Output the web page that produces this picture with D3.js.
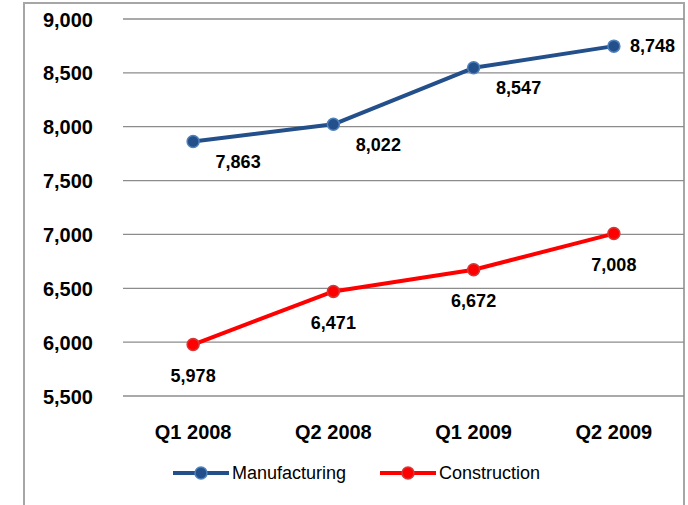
<!DOCTYPE html>
<html><head><meta charset="utf-8">
<script src="https://cdn.jsdelivr.net/npm/d3@7"></script>
<style>body{margin:0;background:#fff}svg{display:block}</style>
</head><body>
<svg id="chart" width="688" height="505"></svg>
<script>
const categories = ["Q1 2008", "Q2 2008", "Q1 2009", "Q2 2009"];
const manufacturing = [7863, 8022, 8547, 8748];
const construction = [5978, 6471, 6672, 7008];
const yTicks = [5500, 6000, 6500, 7000, 7500, 8000, 8500, 9000];
const seriesNames = ["Manufacturing", "Construction"];

const svg = d3.select("#chart");
const W = 688, H = 505;
const plot = {left: 123, right: 684, top: 19, bottom: 396};
const font = "'Liberation Sans', Arial, sans-serif";

// chart border
svg.append("rect").attr("x", 24).attr("y", 3).attr("width", 660).attr("height", 520)
  .attr("fill", "none").attr("stroke", "#a6a6a6").attr("stroke-width", 2);

const x = d3.scaleBand().domain(categories).range([plot.left, plot.right]);
const y = d3.scaleLinear().domain([5500, 9000]).range([plot.bottom, plot.top]);

// gridlines
svg.append("g").selectAll("line").data(yTicks).join("line")
  .attr("x1", plot.left).attr("x2", plot.right)
  .attr("y1", d => y(d)).attr("y2", d => y(d))
  .attr("stroke", "#8c8c8c").attr("stroke-width", 1.3);

// y axis labels
const yAxis = d3.axisLeft(y).tickValues(yTicks).tickFormat(d3.format(",")).tickSize(0).tickPadding(0);
const yg = svg.append("g").attr("transform", `translate(93,0)`).call(yAxis);
yg.select(".domain").remove();
yg.selectAll("text").attr("font-family", font).attr("font-size", 20).attr("font-weight", "bold").attr("fill", "#000").attr("dy", "0.35em");

// x axis labels
const xAxis = d3.axisBottom(x).tickSize(0).tickPadding(0);
const xg = svg.append("g").attr("transform", `translate(0,432)`).call(xAxis);
xg.select(".domain").remove();
xg.selectAll("text").attr("font-family", font).attr("font-size", 20).attr("font-weight", "bold").attr("fill", "#000").attr("dy", "0.35em");

const cx = c => x(c) + x.bandwidth() / 2;
const line = d3.line().x((d, i) => cx(categories[i])).y(d => y(d));

const series = [
  {name: seriesNames[0], values: manufacturing, color: "#234f8a", mk: "#234f8a", mkStroke: "#4f81bd", labelPos: "br"},
  {name: seriesNames[1], values: construction, color: "#ff0000", mk: "#ff0000", mkStroke: "#d23a3a", labelPos: "b"}
];

series.forEach(s => {
  svg.append("path").datum(s.values).attr("d", line)
    .attr("fill", "none").attr("stroke", s.color).attr("stroke-width", 4).attr("stroke-linejoin", "round");
  svg.append("g").selectAll("circle").data(s.values).join("circle")
    .attr("cx", (d, i) => cx(categories[i])).attr("cy", d => y(d)).attr("r", 6)
    .attr("fill", s.mk).attr("stroke", s.mkStroke).attr("stroke-width", 1.5);
  svg.append("g").selectAll("text").data(s.values).join("text")
    .attr("x", (d, i) => {
      const px = cx(categories[i]);
      if (s.labelPos === "b") return px;
      return i === s.values.length - 1 ? px + 16 : px + 45;
    })
    .attr("y", (d, i) => {
      const py = y(d);
      if (s.labelPos === "b") return py + 31;
      return i === s.values.length - 1 ? py : py + 20;
    })
    .attr("dy", "0.35em")
    .attr("text-anchor", (d, i) => (s.labelPos === "br" && i === s.values.length - 1) ? "start" : "middle")
    .attr("font-family", font).attr("font-size", 18).attr("font-weight", "bold").attr("fill", "#000")
    .text(d => d3.format(",")(d));
});

// legend
const legendX = [173, 380];
series.forEach((s, i) => {
  const g = svg.append("g").attr("transform", `translate(${legendX[i]},473)`);
  g.append("line").attr("x1", 0).attr("x2", 56).attr("y1", 0).attr("y2", 0)
    .attr("stroke", s.color).attr("stroke-width", 4);
  g.append("circle").attr("cx", 28).attr("cy", 0).attr("r", 6)
    .attr("fill", s.mk).attr("stroke", s.mkStroke).attr("stroke-width", 1.5);
  g.append("text").attr("x", 59).attr("y", 0).attr("dy", "0.35em")
    .attr("font-family", font).attr("font-size", 18).attr("fill", "#000").text(s.name);
});
</script>
</body></html>
